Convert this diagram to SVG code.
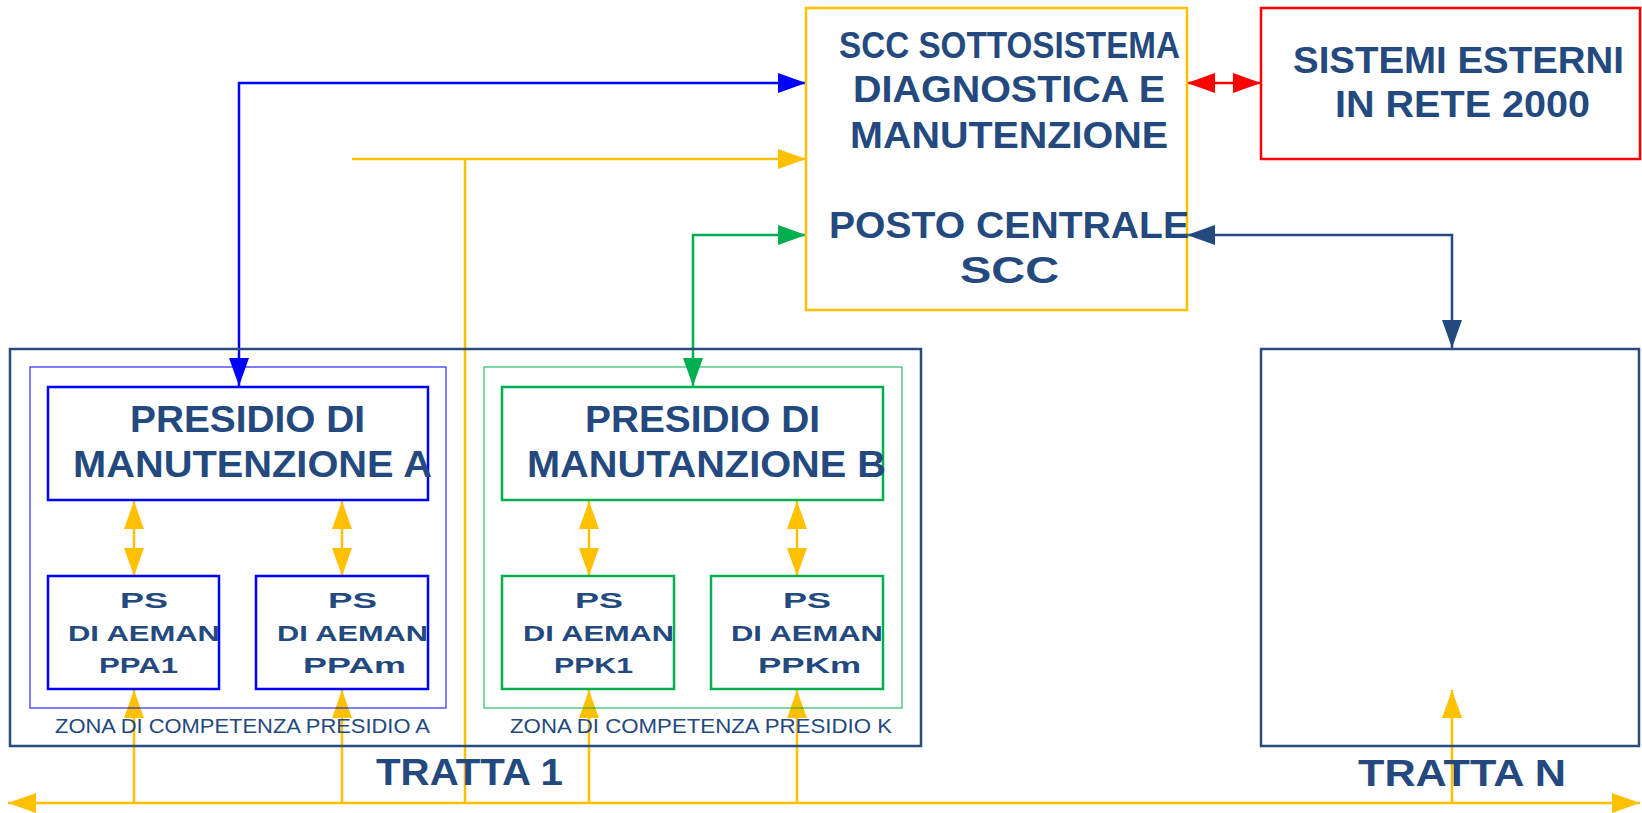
<svg xmlns="http://www.w3.org/2000/svg" width="1642" height="813" viewBox="0 0 1642 813">
<style>
.t{font-family:"Liberation Sans",Arial,sans-serif;font-weight:bold;fill:#23497E}
.z{font-family:"Liberation Sans",Arial,sans-serif;font-weight:normal;fill:#23497E}
.big{font-size:36px}
.ps{font-size:22px}
.zl{font-size:20px}
.box{fill:none;stroke-width:2.5}
.c{fill:none;stroke-width:2.5}
</style>
<defs>
<marker id="aY" markerUnits="userSpaceOnUse" markerWidth="28" markerHeight="20" refX="28" refY="10" orient="auto-start-reverse"><path d="M0,0L28,10L0,20z" fill="#FFC000"/></marker>
<marker id="aB" markerUnits="userSpaceOnUse" markerWidth="28" markerHeight="20" refX="28" refY="10" orient="auto-start-reverse"><path d="M0,0L28,10L0,20z" fill="#0000FF"/></marker>
<marker id="aG" markerUnits="userSpaceOnUse" markerWidth="28" markerHeight="20" refX="28" refY="10" orient="auto-start-reverse"><path d="M0,0L28,10L0,20z" fill="#00B050"/></marker>
<marker id="aR" markerUnits="userSpaceOnUse" markerWidth="28" markerHeight="20" refX="28" refY="10" orient="auto-start-reverse"><path d="M0,0L28,10L0,20z" fill="#FF0000"/></marker>
<marker id="aN" markerUnits="userSpaceOnUse" markerWidth="28" markerHeight="20" refX="28" refY="10" orient="auto-start-reverse"><path d="M0,0L28,10L0,20z" fill="#23497E"/></marker>
</defs>
<rect width="1642" height="813" fill="#fff"/>
<g id="connectors">
<path class="c" stroke="#0000FF" d="M239,386V83H806" marker-start="url(#aB)" marker-end="url(#aB)"/>
<path class="c" stroke="#FFC000" d="M352,159H806" marker-end="url(#aY)"/>
<path class="c" stroke="#FFC000" d="M465,159V803"/>
<path class="c" stroke="#00B050" d="M693,386V235H806" marker-start="url(#aG)" marker-end="url(#aG)"/>
<path class="c" stroke="#23497E" d="M1187,235H1452V348" marker-start="url(#aN)" marker-end="url(#aN)"/>
<path class="c" stroke="#FF0000" d="M1187,83H1261" marker-start="url(#aR)" marker-end="url(#aR)"/>
<path class="c" stroke="#FFC000" d="M134,501V576" marker-start="url(#aY)" marker-end="url(#aY)"/>
<path class="c" stroke="#FFC000" d="M342,501V576" marker-start="url(#aY)" marker-end="url(#aY)"/>
<path class="c" stroke="#FFC000" d="M589,501V576" marker-start="url(#aY)" marker-end="url(#aY)"/>
<path class="c" stroke="#FFC000" d="M797,501V576" marker-start="url(#aY)" marker-end="url(#aY)"/>
<path class="c" stroke="#FFC000" d="M8,803H1640" marker-start="url(#aY)" marker-end="url(#aY)"/>
<path class="c" stroke="#FFC000" d="M134,803V690" marker-end="url(#aY)"/>
<path class="c" stroke="#FFC000" d="M342,803V690" marker-end="url(#aY)"/>
<path class="c" stroke="#FFC000" d="M589,803V690" marker-end="url(#aY)"/>
<path class="c" stroke="#FFC000" d="M797,803V690" marker-end="url(#aY)"/>
<path class="c" stroke="#FFC000" d="M1452,803V690" marker-end="url(#aY)"/>
</g>
<g id="scc">
<rect class="box" stroke="#FFC000" x="806" y="8" width="381" height="302"/>
<text class="t big" x="839" y="58" textLength="341" lengthAdjust="spacingAndGlyphs">SCC SOTTOSISTEMA</text>
<text class="t big" x="853" y="102" textLength="312" lengthAdjust="spacingAndGlyphs">DIAGNOSTICA E</text>
<text class="t big" x="850" y="148" textLength="318" lengthAdjust="spacingAndGlyphs">MANUTENZIONE</text>
<text class="t big" x="829" y="238" textLength="360" lengthAdjust="spacingAndGlyphs">POSTO CENTRALE</text>
<text class="t big" x="960" y="283" textLength="99" lengthAdjust="spacingAndGlyphs">SCC</text>
</g>
<g id="esterni">
<rect class="box" stroke="#FF0000" x="1261" y="8" width="379" height="151"/>
<text class="t big" x="1293" y="73" textLength="331" lengthAdjust="spacingAndGlyphs">SISTEMI ESTERNI</text>
<text class="t big" x="1335" y="117" textLength="255" lengthAdjust="spacingAndGlyphs">IN RETE 2000</text>
</g>
<g id="tratta1">
<rect class="box" stroke="#2A4B7C" x="10" y="349" width="911" height="397"/>
<text class="t big" x="376" y="785" textLength="187" lengthAdjust="spacingAndGlyphs">TRATTA 1</text>
</g>
<g id="trattaN">
<rect class="box" stroke="#2A4B7C" x="1261" y="349" width="378" height="397"/>
<text class="t big" x="1358" y="786" textLength="208" lengthAdjust="spacingAndGlyphs">TRATTA N</text>
</g>
<g id="zonaA">
<rect fill="none" stroke="#0000FF" stroke-width="1" x="30" y="367" width="416" height="341"/>
<text class="z zl" x="55" y="733" textLength="375" lengthAdjust="spacingAndGlyphs">ZONA DI COMPETENZA PRESIDIO A</text>
</g>
<g id="zonaK">
<rect fill="none" stroke="#00B050" stroke-width="1" x="484" y="367" width="418" height="341"/>
<text class="z zl" x="510" y="733" textLength="382" lengthAdjust="spacingAndGlyphs">ZONA DI COMPETENZA PRESIDIO K</text>
</g>
<g id="presidioA">
<rect class="box" stroke="#0000FF" x="48" y="387" width="380" height="113"/>
<text class="t big" x="130" y="432" textLength="235" lengthAdjust="spacingAndGlyphs">PRESIDIO DI</text>
<text class="t big" x="73" y="477" textLength="359" lengthAdjust="spacingAndGlyphs">MANUTENZIONE A</text>
</g>
<g id="presidioB">
<rect class="box" stroke="#00B050" x="502" y="387" width="381" height="113"/>
<text class="t big" x="585" y="432" textLength="235" lengthAdjust="spacingAndGlyphs">PRESIDIO DI</text>
<text class="t big" x="527" y="477" textLength="359" lengthAdjust="spacingAndGlyphs">MANUTANZIONE B</text>
</g>
<g id="ppa1">
<rect class="box" stroke="#0000FF" x="48" y="576" width="171" height="113"/>
<text class="t ps" x="120" y="608" textLength="48" lengthAdjust="spacingAndGlyphs">PS</text>
<text class="t ps" x="68" y="641" textLength="152" lengthAdjust="spacingAndGlyphs">DI AEMAN</text>
<text class="t ps" x="99" y="673" textLength="79" lengthAdjust="spacingAndGlyphs">PPA1</text>
</g>
<g id="ppam">
<rect class="box" stroke="#0000FF" x="256" y="576" width="172" height="113"/>
<text class="t ps" x="328" y="608" textLength="49" lengthAdjust="spacingAndGlyphs">PS</text>
<text class="t ps" x="277" y="641" textLength="151" lengthAdjust="spacingAndGlyphs">DI AEMAN</text>
<text class="t ps" x="303" y="673" textLength="103" lengthAdjust="spacingAndGlyphs">PPAm</text>
</g>
<g id="ppk1">
<rect class="box" stroke="#00B050" x="502" y="576" width="172" height="113"/>
<text class="t ps" x="575" y="608" textLength="48" lengthAdjust="spacingAndGlyphs">PS</text>
<text class="t ps" x="523" y="641" textLength="151" lengthAdjust="spacingAndGlyphs">DI AEMAN</text>
<text class="t ps" x="554" y="673" textLength="79" lengthAdjust="spacingAndGlyphs">PPK1</text>
</g>
<g id="ppkm">
<rect class="box" stroke="#00B050" x="711" y="576" width="172" height="113"/>
<text class="t ps" x="783" y="608" textLength="48" lengthAdjust="spacingAndGlyphs">PS</text>
<text class="t ps" x="731" y="641" textLength="152" lengthAdjust="spacingAndGlyphs">DI AEMAN</text>
<text class="t ps" x="758" y="673" textLength="103" lengthAdjust="spacingAndGlyphs">PPKm</text>
</g>
</svg>
